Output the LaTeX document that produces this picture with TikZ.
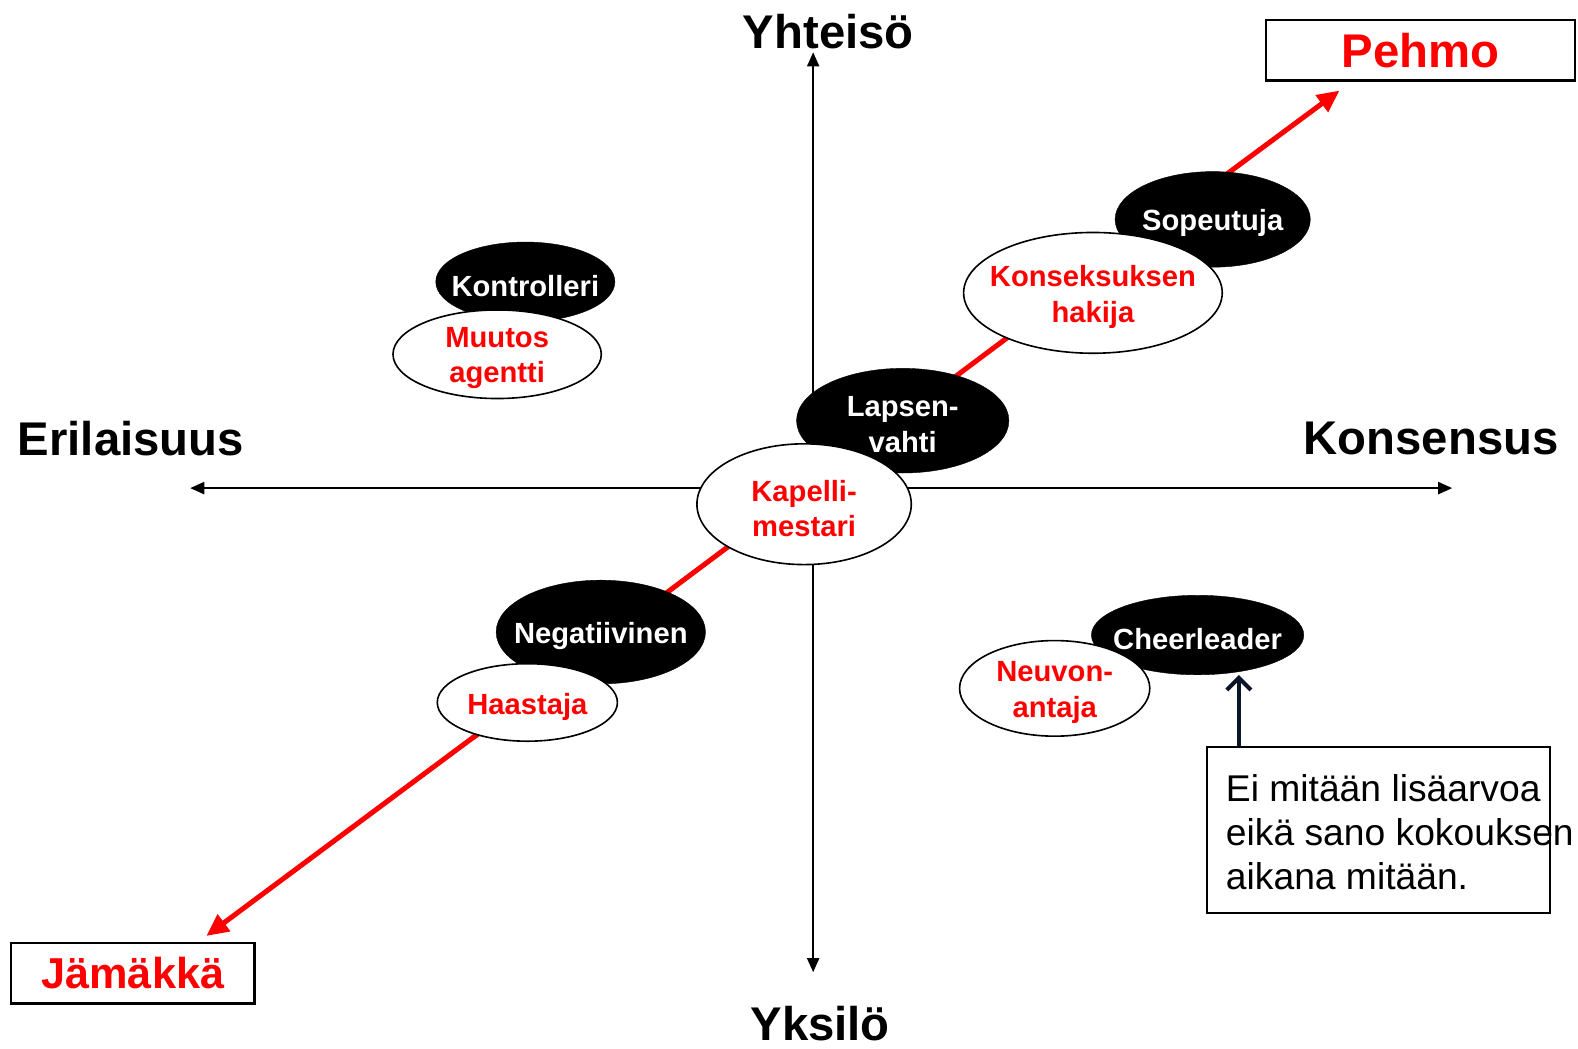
\documentclass[tikz,border=0pt]{standalone}
\usepackage{fontspec}
\setmainfont{Liberation Sans}
\usetikzlibrary{shapes.geometric,arrows.meta}
\definecolor{pred}{RGB}{255,0,0}
\definecolor{navy}{RGB}{10,22,40}
\tikzset{
  blk/.style={ellipse, fill=black, draw=black, inner sep=0pt},
  wht/.style={ellipse, fill=white, draw=black, line width=1.6pt, inner sep=0pt},
  blktxt/.style={text=white, font=\fontsize{29}{35}\selectfont\bfseries, align=center, inner sep=0pt, yshift=-4pt},
  whttxt/.style={text=pred, font=\fontsize{29}{35}\selectfont\bfseries, align=center, inner sep=0pt, yshift=-4pt},
  axislbl/.style={font=\fontsize{47}{56}\selectfont\bfseries, inner sep=0pt},
  axis/.style={line width=2pt, -{Triangle[length=14pt,width=12pt]}},
  redline/.style={line width=5pt, draw=pred},
  redarrow/.style={line width=5pt, draw=pred, -{Triangle[length=22pt,width=20pt]}},
  endbox/.style={draw=black, line width=2.5pt, fill=white, text=pred, font=\fontsize{47}{56}\selectfont\bfseries, inner sep=0pt}
}
\begin{document}
\begin{tikzpicture}[x=1pt,y=-1pt]
\useasboundingbox (0,0) rectangle (1568,1042);
\fill[white] (0,0) rectangle (1568,1042);
% axes
\coordinate (O) at (808,485);
\coordinate (top) at (808,52);
\coordinate (bot) at (808,966);
\coordinate (lft) at (189,485);
\coordinate (rgt) at (1443,485);
\draw[axis] (O) -- (top);
\draw[axis] (O) -- (bot);
\draw[axis] (O) -- (lft);
\draw[axis] (O) -- (rgt);
% axis labels
\node[axislbl] (yht) at (823,31) {Yhteisö};
\node[axislbl] (yks) at (815,1017) {Yksilö};
\node[axislbl] (eri) at (130,436) {Erilaisuus};
\node[axislbl] (kon) at (1422,436) {Konsensus};
% end boxes
\node[endbox, minimum width=307pt, minimum height=60pt] (pehmo) at (1411.5,50) {Pehmo};
\node[endbox, minimum width=242pt, minimum height=60pt, font=\fontsize{43}{50}\selectfont\bfseries] (jama) at (132,967) {Jämäkkä};
% red diagonal
\coordinate (ptip) at (1331,90);
\coordinate (jtip) at (205,930);
\draw[redline] (808,480) -- (1218,173);
\draw[redarrow] (1200,187) -- (ptip);
\draw[redline] (808,480) -- (470,733);
\draw[redarrow] (490,718) -- (jtip);
% ellipses
\node[blk, minimum width=194pt, minimum height=95pt] (sop) at (1205,218) {};
\node[blktxt] (sopt) at (sop) {Sopeutuja};
\node[wht, minimum width=257pt, minimum height=120pt] (kons) at (1086,291) {};
\node[whttxt] (konst) at (kons) {Konseksuksen\\hakija};
\node[blk, minimum width=178pt, minimum height=79pt] (kontr) at (522,280) {};
\node[blktxt] (kontrt) at (kontr) {Kontrolleri};
\node[wht, minimum width=207pt, minimum height=88pt] (muut) at (494,352) {};
\node[whttxt] (muutt) at (muut) {Muutos\\agentti};
\node[blk, minimum width=211pt, minimum height=104pt] (laps) at (897,418) {};
\node[blktxt] (lapst) at (laps) {Lapsen-\\vahti};
\node[wht, minimum width=213pt, minimum height=120pt] (kap) at (799,501) {};
\node[whttxt] (kapt) at (kap) {Kapelli-\\mestari};
\node[blk, minimum width=208pt, minimum height=103pt] (neg) at (597,628) {};
\node[blktxt] (negt) at (neg) {Negatiivinen};
\node[wht, minimum width=179pt, minimum height=77pt] (haas) at (524,698) {};
\node[whttxt] (haast) at (haas) {Haastaja};
\node[blk, minimum width=211pt, minimum height=79pt] (cheer) at (1190,631) {};
\node[blktxt] (cheert) at (cheer) {Cheerleader};
\node[wht, minimum width=189pt, minimum height=95pt] (neuv) at (1048,684) {};
\node[whttxt] (neuvt) at (neuv) {Neuvon-\\antaja};
% note box
\node[draw=black, line width=2pt, fill=white, minimum width=341pt, minimum height=165pt, inner sep=0pt] (note) at (1369.5,824.5) {};
\node[anchor=north west, align=left, inner sep=0pt, font=\fontsize{37}{44}\selectfont] (notetxt) at (1218,769) {Ei mitään lisäarvoa\\eikä sano kokouksen\\aikana mitään.};
\draw[line width=4pt, draw=navy, -{Straight Barb[length=12pt,width=24pt,line width=4pt]}] (note.north -| 1231,0) -- (cheer.south -| 1231,0);
\end{tikzpicture}
\end{document}
